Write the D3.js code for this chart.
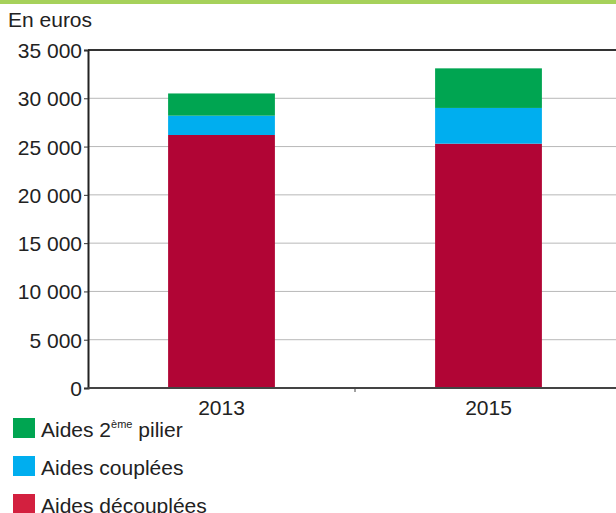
<!DOCTYPE html>
<html>
<head>
<meta charset="utf-8">
<script src="https://cdn.jsdelivr.net/npm/d3@7"></script>
<style>
  body { margin: 0; background: #fff; }
  svg { display: block; }
  svg text { font-family: "Liberation Sans", Arial, sans-serif; fill: #222; }
  .axis text { font-size: 21px; }
</style>
</head>
<body>
<div class="chart"></div>
<script>
const years = ["2013", "2015"]
const aidesDecouplees = [26200, 25300]
const aidesCouplees = [2000, 3700]
const aidesPilier2 = [2300, 4100]
const yTicks = [0, 5000, 10000, 15000, 20000, 25000, 30000, 35000]

const width = 616
const height = 513
const margin = { top: 50, left: 88, bottom: 125 }

const $svg = d3.select(".chart").append("svg")
  .attr("width", width)
  .attr("height", height)

// green band on top
$svg.append("rect").attr("x", 0).attr("y", 0).attr("width", width).attr("height", 4).attr("fill", "#a6d15b")

$svg.append("text")
  .attr("x", 8).attr("y", 27)
  .attr("font-size", 21)
  .text("En euros")

const series = [
  { key: "decouplees", label: "Aides découplées", values: aidesDecouplees, color: "#b10535", legend: "#d3203f" },
  { key: "couplees", label: "Aides couplées", values: aidesCouplees, color: "#00aeef", legend: "#00aeef" },
  { key: "pilier2", label: "Aides 2", sup: "ème", rest: " pilier", values: aidesPilier2, color: "#00a551", legend: "#00a551" }
]

const table = years.map((y, i) => {
  const row = { year: y }
  series.forEach(s => { row[s.key] = s.values[i] })
  return row
})
const stacked = d3.stack().keys(series.map(s => s.key))(table)

const x = d3.scaleBand().domain(years).range([margin.left, 622]).paddingInner(0.6).paddingOuter(0.3)
const y = d3.scaleLinear().domain([0, 35000]).range([388, margin.top])

const fmt = d => d3.format(",")(d).replace(/,/g, " ")

// grid
$svg.append("g")
  .selectAll("line")
  .data(yTicks.filter(t => t > 0 && t < 35000))
  .enter().append("line")
  .attr("x1", margin.left).attr("x2", width)
  .attr("y1", d => y(d)).attr("y2", d => y(d))
  .attr("stroke", "#b8b8b8").attr("stroke-width", 1)

$svg.append("g")
  .selectAll("g")
  .data(stacked)
  .enter().append("g")
  .attr("fill", (d, i) => series[i].color)
  .selectAll("rect")
  .data(d => d)
  .enter().append("rect")
  .attr("x", d => x(d.data.year))
  .attr("width", x.bandwidth())
  .attr("y", d => y(d[1]))
  .attr("height", d => y(d[0]) - y(d[1]))

// top frame line
$svg.append("line")
  .attr("x1", margin.left).attr("x2", width)
  .attr("y1", y(35000)).attr("y2", y(35000))
  .attr("stroke", "#333").attr("stroke-width", 2)

const $yAxis = $svg.append("g")
  .attr("class", "axis")
  .attr("transform", `translate(${margin.left},0)`)
  .call(d3.axisLeft(y).tickValues(yTicks).tickFormat(fmt).tickSize(4).tickPadding(2))
$yAxis.attr("font-family", null).attr("font-size", null)
$yAxis.select(".domain").attr("stroke", "#222").attr("stroke-width", 2)
$yAxis.selectAll(".tick line").attr("stroke", "#333")
$yAxis.selectAll(".tick text").attr("dy", "0.36em")

const $xAxis = $svg.append("g")
  .attr("class", "axis")
  .attr("transform", `translate(0,388)`)
  .call(d3.axisBottom(x).tickSize(0).tickPadding(12))
$xAxis.attr("font-family", null).attr("font-size", null)
$xAxis.select(".domain").remove()
$xAxis.append("line").attr("x1", margin.left).attr("x2", width).attr("stroke", "#444").attr("stroke-width", 2)
$xAxis.append("line")
  .attr("x1", (x("2013") + x("2015") + x.bandwidth()) / 2)
  .attr("x2", (x("2013") + x("2015") + x.bandwidth()) / 2)
  .attr("y1", 0).attr("y2", 4).attr("stroke", "#444")

// legend
const legendOrder = [series[2], series[1], series[0]]
const $legend = $svg.append("g")
legendOrder.forEach((s, i) => {
  const yy = 418 + i * 38
  $legend.append("rect").attr("x", 13).attr("y", yy).attr("width", 22).attr("height", 20).attr("fill", s.legend)
  const t = $legend.append("text").attr("x", 41).attr("y", yy + 19).attr("font-size", 21)
  if (s.sup) {
    t.append("tspan").text(s.label)
    t.append("tspan").attr("font-size", 11).attr("dy", -9).text(s.sup)
    t.append("tspan").attr("dy", 9).text(s.rest)
  } else {
    t.text(s.label)
  }
})
</script>
</body>
</html>
